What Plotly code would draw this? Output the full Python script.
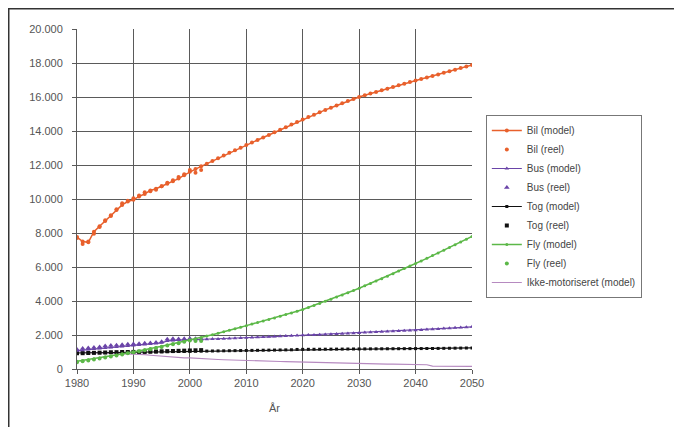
import plotly.graph_objects as go

years = list(range(1980, 2051))
reel_years = list(range(1980, 2003))

bil_model = [7760, 7500, 7450, 8080, 8400, 8700, 9000, 9350, 9650, 9850,
             9950, 10150, 10300, 10500, 10600, 10750, 10900, 11050, 11200, 11400,
             11600, 11760, 11920, 12080, 12240, 12400, 12560, 12720, 12870, 13020,
             13170, 13320, 13470, 13620, 13770, 13920, 14070, 14220, 14380, 14530,
             14680, 14820, 14960, 15100, 15240, 15370, 15500, 15630, 15760, 15880,
             16000, 16100, 16200, 16300, 16400, 16490, 16590, 16690, 16780, 16880,
             16970, 17060, 17150, 17240, 17330, 17430, 17520, 17610, 17700, 17790,
             17880]
bil_reel = [7700, 7350, 7500, 7950, 8350, 8750, 9050, 9400, 9750, 9900,
            10050, 10200, 10400, 10450, 10550, 10750, 10950, 11100, 11300, 11450,
            11700, 11550, 11700]

bus_model = [1080, 1110, 1140, 1170, 1200, 1230, 1260, 1290, 1320, 1350,
             1380, 1410, 1440, 1470, 1500, 1540, 1650, 1680, 1700, 1710,
             1720, 1730, 1740, 1750, 1760, 1770, 1780, 1800, 1815, 1830,
             1845, 1860, 1870, 1885, 1900, 1910, 1925, 1940, 1950, 1965,
             1980, 1995, 2005, 2020, 2035, 2050, 2065, 2080, 2095, 2110,
             2125, 2140, 2155, 2170, 2185, 2200, 2215, 2230, 2250, 2265,
             2285, 2300, 2320, 2340, 2360, 2380, 2400, 2420, 2440, 2460,
             2480]
bus_reel = [1150, 1200, 1230, 1260, 1300, 1350, 1380, 1400, 1420, 1450,
            1470, 1490, 1510, 1530, 1560, 1600, 1750, 1780, 1760, 1780,
            1800, 1780, 1770]

tog_model = [940, 945, 950, 955, 960, 965, 970, 975, 980, 985,
             990, 995, 1000, 1005, 1010, 1015, 1020, 1025, 1030, 1035,
             1040, 1045, 1050, 1055, 1060, 1065, 1070, 1075, 1080, 1085,
             1090, 1095, 1100, 1105, 1110, 1115, 1120, 1125, 1130, 1150,
             1155, 1158, 1160, 1163, 1165, 1168, 1170, 1172, 1175, 1177,
             1180, 1182, 1184, 1186, 1188, 1190, 1192, 1194, 1196, 1198,
             1200, 1202, 1204, 1206, 1210, 1215, 1220, 1225, 1230, 1235,
             1240]
tog_reel = [920, 930, 940, 950, 960, 970, 985, 990, 1000, 1000,
            1005, 1010, 1010, 1020, 1030, 1040, 1050, 1060, 1070, 1080,
            1090, 1100, 1110]

fly_model = [450, 500, 550, 600, 650, 710, 770, 830, 890, 940,
             1000, 1060, 1130, 1200, 1270, 1340, 1410, 1480, 1550, 1620,
             1700, 1780, 1860, 1940, 2020, 2100, 2190, 2280, 2370, 2460,
             2550, 2640, 2730, 2820, 2910, 3000, 3100, 3200, 3300, 3400,
             3500, 3620, 3740, 3860, 3980, 4100, 4230, 4360, 4490, 4620,
             4750, 4890, 5030, 5170, 5310, 5460, 5610, 5760, 5910, 6060,
             6200, 6350, 6510, 6670, 6830, 6990, 7150, 7310, 7470, 7630,
             7800]
fly_reel = [400, 450, 500, 560, 620, 680, 740, 800, 860, 920,
            980, 1040, 1100, 1160, 1230, 1300, 1380, 1450, 1520, 1600,
            1680, 1650, 1640]

ikke_model = [1000, 990, 980, 970, 960, 950, 940, 930, 920, 910,
              900, 870, 840, 810, 780, 750, 720, 700, 680, 660,
              650, 640, 620, 600, 580, 560, 545, 530, 520, 510,
              500, 490, 480, 470, 460, 450, 440, 430, 420, 410,
              400, 390, 380, 370, 360, 350, 340, 330, 320, 310,
              300, 298, 296, 294, 292, 290, 288, 286, 284, 282,
              280, 275, 250, 170, 165, 160, 158, 156, 154, 152,
              150]

y_ticks = [0, 2000, 4000, 6000, 8000, 10000, 12000, 14000, 16000, 18000, 20000]
y_tick_text = ["0", "2.000", "4.000", "6.000", "8.000", "10.000", "12.000",
               "14.000", "16.000", "18.000", "20.000"]
x_ticks = [1980, 1990, 2000, 2010, 2020, 2030, 2040, 2050]

C_BIL = "#E8602C"
C_BUS = "#6A44A8"
C_TOG = "#111111"
C_FLY = "#5CB848"
C_IKKE = "#B68AC0"

fig = go.Figure()

fig.add_trace(go.Scatter(x=years, y=ikke_model, mode="lines", name="Ikke-motoriseret (model)",
                         line=dict(color=C_IKKE, width=1.2), legendrank=9))
fig.add_trace(go.Scatter(x=years, y=tog_model, mode="lines+markers", name="Tog (model)",
                         line=dict(color=C_TOG, width=1.2),
                         marker=dict(symbol="square", size=3, color=C_TOG), legendrank=5))
fig.add_trace(go.Scatter(x=reel_years, y=tog_reel, mode="markers", name="Tog (reel)",
                         marker=dict(symbol="square", size=4, color=C_TOG), legendrank=6))
fig.add_trace(go.Scatter(x=years, y=bus_model, mode="lines+markers", name="Bus (model)",
                         line=dict(color=C_BUS, width=1.2),
                         marker=dict(symbol="triangle-up", size=4, color=C_BUS), legendrank=3))
fig.add_trace(go.Scatter(x=reel_years, y=bus_reel, mode="markers", name="Bus (reel)",
                         marker=dict(symbol="triangle-up", size=5, color=C_BUS), legendrank=4))
fig.add_trace(go.Scatter(x=years, y=fly_model, mode="lines+markers", name="Fly (model)",
                         line=dict(color=C_FLY, width=1.5),
                         marker=dict(symbol="circle", size=3, color=C_FLY), legendrank=7))
fig.add_trace(go.Scatter(x=reel_years, y=fly_reel, mode="markers", name="Fly (reel)",
                         marker=dict(symbol="circle", size=4, color=C_FLY), legendrank=8))
fig.add_trace(go.Scatter(x=years, y=bil_model, mode="lines+markers", name="Bil (model)",
                         line=dict(color=C_BIL, width=1.5),
                         marker=dict(symbol="circle", size=4, color=C_BIL), legendrank=1))
fig.add_trace(go.Scatter(x=reel_years, y=bil_reel, mode="markers", name="Bil (reel)",
                         marker=dict(symbol="circle", size=4, color=C_BIL), legendrank=2))

# outer frame (only left and top edges visible in the crop)
fig.add_shape(type="rect", xref="paper", yref="paper",
              x0=-0.1728, x1=1.8, y0=-0.35, y1=1.0596,
              line=dict(color="#333333", width=1.5), layer="below")

fig.update_layout(
    width=682, height=427,
    margin=dict(l=69, r=218, t=21, b=66),
    paper_bgcolor="white", plot_bgcolor="white",
    font=dict(family="Liberation Sans, Arial, sans-serif", size=11, color="#555555"),
    showlegend=True,
    legend=dict(x=1.035, y=0.747, xanchor="left", yanchor="top",
                bordercolor="#777777", borderwidth=1, bgcolor="white",
                font=dict(size=10, color="#444444"),
                entrywidth=180, tracegroupgap=0, itemwidth=30),
    xaxis=dict(range=[1980, 2050], tickvals=x_ticks, showgrid=True,
               gridcolor="#5a5a5a", gridwidth=1, zeroline=False,
               showline=True, linecolor="#5a5a5a", linewidth=1,
               ticks="outside", ticklen=4, tickcolor="#5a5a5a",
               tickfont=dict(size=11),
               title=dict(text="År", standoff=16, font=dict(size=11))),
    yaxis=dict(range=[0, 20000], tickvals=y_ticks, ticktext=y_tick_text,
               showgrid=True, gridcolor="#5a5a5a", gridwidth=1, zeroline=False,
               showline=True, linecolor="#5a5a5a", linewidth=1,
               ticks="outside", ticklen=4, tickcolor="#5a5a5a",
               tickfont=dict(size=11), ticklabelstandoff=7),
)

fig.write_html("out.html")
